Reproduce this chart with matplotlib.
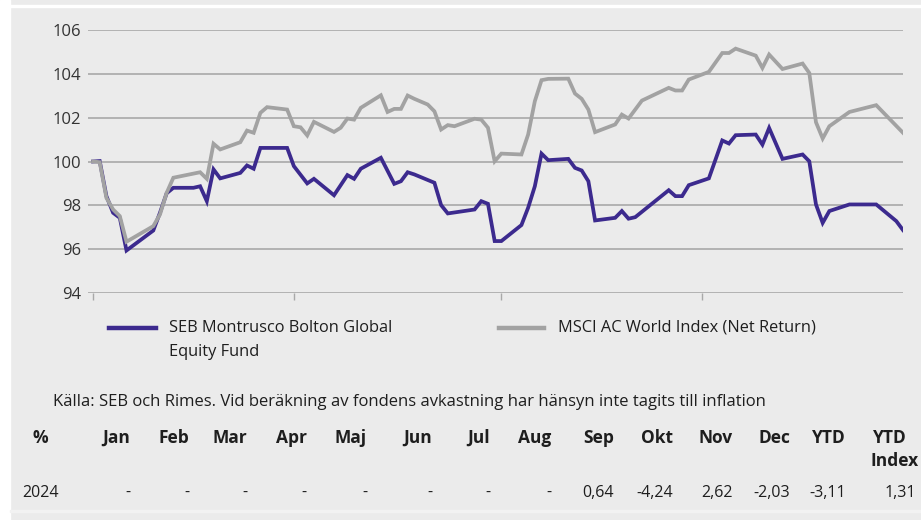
import pandas as pd
import matplotlib
matplotlib.use('Agg')
import matplotlib.pyplot as plt
import matplotlib.dates as mdates
from matplotlib.lines import Line2D
from matplotlib.patches import Rectangle

plt.rcParams['font.family'] = ['Open Sans', 'DejaVu Sans']

# dagar efter 2024-09-01 och indexerat värde (start = 100)
start = pd.Timestamp('2024-09-01')
fund_days = [0, 1, 2, 3, 4, 5, 9, 10, 11, 12, 15, 16, 17, 18, 19, 22, 23, 24, 25, 29,
             30, 32, 33, 36, 38, 39, 40, 43, 45, 46, 47, 48, 51, 52, 53, 57, 58, 59, 60, 61,
             64, 65, 66, 67, 68, 71, 72, 73, 74, 75, 78, 79, 80, 81, 86, 87, 88, 89, 92, 94,
             95, 96, 99, 100, 101, 103, 106, 107, 108, 109, 110, 113, 117, 120, 121]
fund_vals = [100.0, 100.02, 98.42, 97.66, 97.43, 95.94, 96.85, 97.66, 98.55, 98.8, 98.8, 98.87,
             98.19, 99.64, 99.23, 99.48, 99.82, 99.67, 100.62, 100.62,
             99.79, 99.0, 99.21, 98.46, 99.38, 99.21, 99.67, 100.17, 98.98, 99.1, 99.51, 99.41,
             99.03, 98.01, 97.63, 97.81, 98.19, 98.07, 96.37, 96.37,
             97.1, 97.89, 98.87, 100.36, 100.06, 100.12, 99.71, 99.59, 99.1, 97.31, 97.43, 97.74,
             97.39, 97.46, 98.69, 98.42, 98.42, 98.92, 99.23, 100.96,
             100.82, 101.2, 101.23, 100.77, 101.53, 100.12, 100.32, 100.01, 98.04, 97.2, 97.74,
             98.04, 98.04, 97.28, 96.87]

index_days = [0, 1, 2, 3, 4, 5, 9, 10, 11, 12, 16, 17, 18, 19, 22, 23, 24, 25, 26, 29,
              30, 31, 32, 33, 36, 37, 38, 39, 40, 43, 44, 45, 46, 47, 48, 50, 51, 52, 53, 54,
              57, 58, 59, 60, 61, 64, 65, 66, 67, 68, 71, 72, 73, 74, 75, 78, 79, 80, 81, 82,
              86, 87, 88, 89, 92, 94, 95, 96, 99, 100, 101, 103, 106, 107, 108, 109, 110, 113,
              117, 121]
index_vals = [100.0, 99.97, 98.34, 97.81, 97.51, 96.34, 97.05, 97.58, 98.57, 99.26, 99.51, 99.21,
              100.81, 100.55, 100.88, 101.41, 101.31, 102.22, 102.48, 102.37,
              101.61, 101.56, 101.19, 101.81, 101.35, 101.54, 101.96, 101.91, 102.45, 103.02,
              102.26, 102.4, 102.4, 103.01, 102.86, 102.6, 102.29, 101.46, 101.66, 101.61,
              101.95, 101.91, 101.54, 100.01, 100.36, 100.32, 101.23, 102.75, 103.71, 103.77,
              103.78, 103.1, 102.86, 102.37, 101.34, 101.69, 102.14, 101.96, 102.37, 102.78,
              103.36, 103.24, 103.24, 103.74, 104.09, 104.95, 104.95, 105.15, 104.83, 104.27,
              104.88, 104.22, 104.47, 104.04, 101.79, 101.05, 101.61, 102.26, 102.57, 101.31]

fund_name = 'SEB Montrusco Bolton Global'
fund_name2 = 'Equity Fund'
index_name = 'MSCI AC World Index (Net Return)'
source = 'Källa: SEB och Rimes. Vid beräkning av fondens avkastning har hänsyn inte tagits till inflation'

headers = ['%', 'Jan', 'Feb', 'Mar', 'Apr', 'Maj', 'Jun', 'Jul', 'Aug', 'Sep', 'Okt', 'Nov',
           'Dec', 'YTD', 'YTD']
row_2024 = ['2024', '-', '-', '-', '-', '-', '-', '-', '-', '0,64', '-4,24', '2,62', '-2,03',
            '-3,11', '1,31']

W, H = 921, 520
bg = '#ebebeb'
purple = '#3c2a8e'
grey = '#a2a2a2'
gridc = '#a8a8a8'
txt = '#1e1e1e'

def fx(x):
    return x / W

def fy(y):
    return 1 - y / H

fig = plt.figure(figsize=(W / 100, H / 100), dpi=100, facecolor=bg)
# vita kanter
fig.patches.append(Rectangle((0, 0), fx(10), 1, transform=fig.transFigure, color='white', zorder=0))
fig.patches.append(Rectangle((0, fy(7)), 1, 2 / H, transform=fig.transFigure, color='white', zorder=0))
fig.patches.append(Rectangle((fx(10), fy(512)), 1, 2 / H, transform=fig.transFigure, color='#f2f2f2', zorder=0))

ax = fig.add_axes([fx(88), fy(293), fx(903) - fx(88), fy(30) - fy(293)])
ax.set_facecolor('none')

fd = start + pd.to_timedelta(fund_days, unit='D')
idd = start + pd.to_timedelta(index_days, unit='D')
ax.plot(fd, fund_vals, color=purple, lw=2.7, solid_joinstyle='miter', zorder=3)
ax.plot(idd, index_vals, color=grey, lw=2.7, solid_joinstyle='miter', zorder=4)

ax.set_ylim(94, 106)
ax.set_yticks(range(94, 107, 2))
ax.set_xlim(start - pd.Timedelta(days=0.75), start + pd.Timedelta(days=121))
ax.xaxis.set_major_locator(mdates.MonthLocator())
ax.xaxis.set_major_formatter(plt.NullFormatter())
ax.grid(axis='y', color=gridc, lw=1.2)
ax.set_axisbelow(True)
for s in ax.spines.values():
    s.set_visible(False)
ax.tick_params(axis='y', length=0, pad=5, labelsize=12, labelcolor='#333333')
ax.tick_params(axis='x', length=5, width=1, color=gridc, direction='out')

# legend
fig.lines.append(Line2D([fx(109), fx(156)], [fy(328), fy(328)], transform=fig.transFigure,
                        color=purple, lw=3.2))
fig.text(fx(169), fy(328), fund_name, fontsize=11.8, color=txt, va='center')
fig.text(fx(169), fy(352), fund_name2, fontsize=11.8, color=txt, va='center')
fig.lines.append(Line2D([fx(499), fx(544)], [fy(328), fy(328)], transform=fig.transFigure,
                        color=grey, lw=3.2))
fig.text(fx(558), fy(328), index_name, fontsize=11.8, color=txt, va='center')

fig.text(fx(53), fy(402), source, fontsize=12, color=txt, va='center')

# tabell, högerjusterade kolumner
col_right = [47, 130, 189, 247, 307, 367, 432, 490, 551, 614, 673, 733, 790, 846, 907]
for i, (h, v) in enumerate(zip(headers, row_2024)):
    xr = col_right[i]
    if i == 0:
        fig.text(fx(40), fy(438), h, fontsize=12.5, fontweight='bold', color=txt, ha='center', va='center')
        fig.text(fx(22), fy(493), v, fontsize=11.5, color=txt, ha='left', va='center')
        continue
    fig.text(fx(xr), fy(438), h, fontsize=12.5, fontweight='bold', color=txt, ha='right', va='center')
    vr = xr if i < len(headers) - 1 else 916
    fig.text(fx(vr), fy(493), v, fontsize=11.5, color=txt, ha='right', va='center')
fig.text(fx(919), fy(461), 'Index', fontsize=12.5, fontweight='bold', color=txt, ha='right', va='center')

fig.savefig('out.png', dpi=100, facecolor=bg)
